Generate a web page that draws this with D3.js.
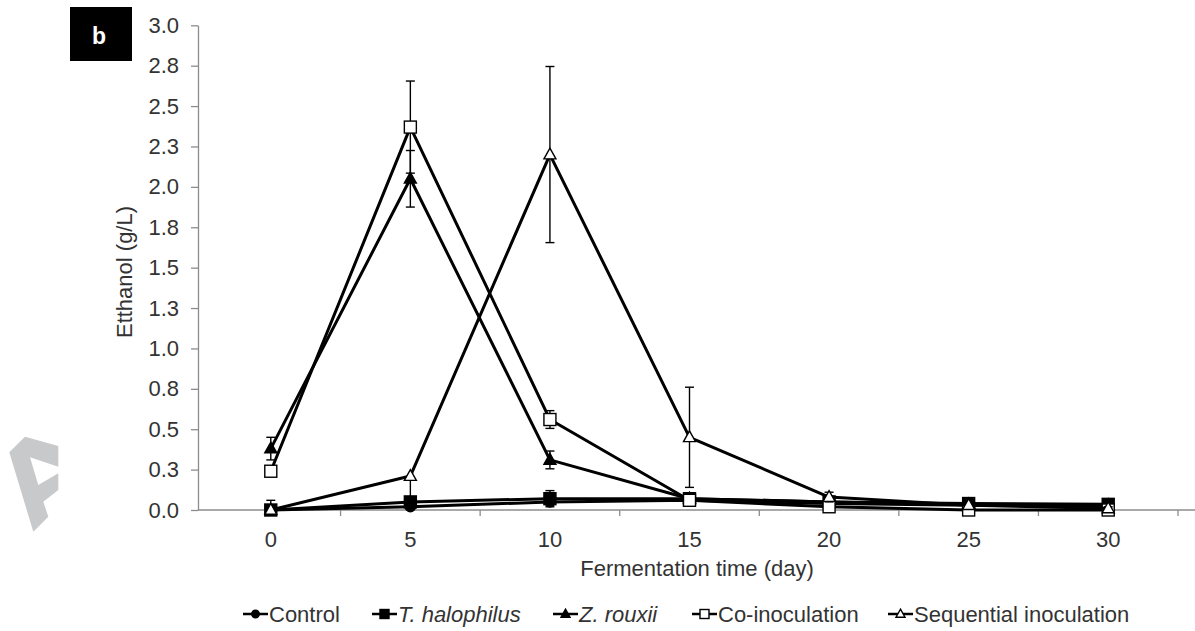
<!DOCTYPE html>
<html>
<head>
<meta charset="utf-8">
<script src="https://cdn.jsdelivr.net/npm/d3@7"></script>
<style>
  html, body { margin: 0; padding: 0; background: #fff; }
  svg { display: block; font-family: "Liberation Sans", Arial, Helvetica, sans-serif; }
</style>
</head>
<body>
<svg id="chart" width="1195" height="631"></svg>
<script>
// Fermentation days (categories on the x axis)
const days = [0, 5, 10, 15, 20, 25, 30];

// Ethanol (g/L) per treatment, with error bar half-widths
const control       = [0.00, 0.02, 0.05, 0.06, 0.04, 0.03, 0.02];
const controlErr    = [0.00, 0.01, 0.01, 0.01, 0.01, 0.01, 0.01];
const tHalophilus   = [0.00, 0.05, 0.07, 0.07, 0.05, 0.04, 0.035];
const tHalophilusErr= [0.00, 0.02, 0.05, 0.02, 0.01, 0.01, 0.01];
const zRouxii       = [0.38, 2.05, 0.31, 0.07, 0.05, 0.035, 0.03];
const zRouxiiErr    = [0.07, 0.175, 0.055, 0.02, 0.01, 0.01, 0.01];
const coInoc        = [0.24, 2.37, 0.56, 0.06, 0.02, 0.00, 0.00];
const coInocErr     = [0.00, 0.285, 0.055, 0.02, 0.01, 0.01, 0.01];
const sequential    = [0.00, 0.21, 2.20, 0.45, 0.08, 0.03, 0.01];
const sequentialErrUp   = [0.06, 0.00, 0.545, 0.31, 0.03, 0.01, 0.01];
const sequentialErrDown = [0.06, 0.16, 0.545, 0.31, 0.03, 0.01, 0.01];

// Y axis ticks (0.25 steps, labels rounded to one decimal)
const yTickValues = [0, 0.25, 0.5, 0.75, 1.0, 1.25, 1.5, 1.75, 2.0, 2.25, 2.5, 2.75, 3.0];
const yTickLabels = ["0.0", "0.3", "0.5", "0.8", "1.0", "1.3", "1.5", "1.8", "2.0", "2.3", "2.5", "2.8", "3.0"];

const seriesNames = ["Control", "T. halophilus", "Z. rouxii", "Co-inoculation", "Sequential inoculation"];

const series = [
  { name: seriesNames[0], values: control,     up: controlErr,      down: controlErr,        marker: "circle",   fill: "#000", italic: false },
  { name: seriesNames[1], values: tHalophilus, up: tHalophilusErr,  down: tHalophilusErr,    marker: "square",   fill: "#000", italic: true },
  { name: seriesNames[2], values: zRouxii,     up: zRouxiiErr,      down: zRouxiiErr,        marker: "triangle", fill: "#000", italic: true },
  { name: seriesNames[3], values: coInoc,      up: coInocErr,       down: coInocErr,         marker: "square",   fill: "#fff", italic: false },
  { name: seriesNames[4], values: sequential,  up: sequentialErrUp, down: sequentialErrDown, marker: "triangle", fill: "#fff", italic: false }
];

const svg = d3.select("#chart");
const axisColor = "#8c8c8c";
const textColor = "#333";
const fontSize = 22;

const plotLeft = 198, plotRight = 1195, plotTop = 25.3, plotBottom = 510;

const x = d3.scaleBand().domain(days).range([201, 1178]).padding(0);
const xc = d => x(d) + x.bandwidth() / 2;
const y = d3.scaleLinear().domain([0, 3]).range([plotBottom, plotTop]);

// Watermark glyph at the left margin
svg.append("path")
  .attr("d", "M9.3,452.3 L25,436.7 L58.3,446 L58.3,490 L43.3,501.7 L48.3,516.7 L33.3,531.7 Z " +
             "M30,457.3 L58.3,466.7 L58.3,473.3 L38.3,485 Z")
  .attr("fill", "#c8c9cb")
  .attr("fill-rule", "evenodd");

// Panel label
svg.append("rect").attr("x", 70).attr("y", 7).attr("width", 62).attr("height", 54).attr("fill", "#000");
svg.append("text").attr("x", 99).attr("y", 44).attr("text-anchor", "middle")
  .attr("fill", "#fff").attr("font-size", 23).attr("font-weight", "bold").text("b");

// Y axis
const yAxis = d3.axisLeft(y).tickValues(yTickValues)
  .tickFormat((d, i) => yTickLabels[i]).tickSize(7).tickSizeOuter(0).tickPadding(12);
const gy = svg.append("g").attr("transform", `translate(${plotLeft},0)`).call(yAxis);
gy.select(".domain").attr("stroke", axisColor).attr("stroke-width", 1.3);
gy.selectAll(".tick line").attr("stroke", axisColor).attr("stroke-width", 1.3);
gy.selectAll(".tick text").attr("fill", textColor).attr("font-size", fontSize)
  .attr("font-family", "Liberation Sans, Arial, sans-serif");

// X axis: line with ticks between categories, labels at category centres
const gx = svg.append("g");
gx.append("line").attr("x1", plotLeft).attr("x2", plotRight).attr("y1", plotBottom).attr("y2", plotBottom)
  .attr("stroke", axisColor).attr("stroke-width", 1.3);
const xTickPos = days.slice(1).map(d => x(d)).concat([x(days[days.length - 1]) + x.bandwidth()]);
gx.selectAll("line.xt").data(xTickPos).join("line").attr("class", "xt")
  .attr("x1", d => d).attr("x2", d => d).attr("y1", plotBottom).attr("y2", plotBottom + 6)
  .attr("stroke", axisColor).attr("stroke-width", 1.3);
gx.selectAll("text.xl").data(days).join("text").attr("class", "xl")
  .attr("x", d => xc(d)).attr("y", 547).attr("text-anchor", "middle")
  .attr("fill", textColor).attr("font-size", fontSize).text(d => d);

// Axis titles
svg.append("text").attr("x", 697).attr("y", 576).attr("text-anchor", "middle")
  .attr("fill", textColor).attr("font-size", fontSize).text("Fermentation time (day)");
svg.append("text").attr("transform", "translate(132,272) rotate(-90)").attr("text-anchor", "middle")
  .attr("fill", textColor).attr("font-size", fontSize).text("Etthanol (g/L)");

// Marker drawing helper
function drawMarker(g, type, cx, cy, fill, size) {
  const s = size;
  if (type === "circle") {
    g.append("circle").attr("cx", cx).attr("cy", cy).attr("r", s * 0.42)
      .attr("fill", fill).attr("stroke", "#000").attr("stroke-width", 1.4);
  } else if (type === "square") {
    g.append("rect").attr("x", cx - s / 2).attr("y", cy - s / 2).attr("width", s).attr("height", s)
      .attr("fill", fill).attr("stroke", "#000").attr("stroke-width", 1.4);
  } else {
    const h = s * 0.9;
    g.append("path")
      .attr("d", `M${cx},${cy - h * 0.6} L${cx + s / 2},${cy + h * 0.4} L${cx - s / 2},${cy + h * 0.4} Z`)
      .attr("fill", fill).attr("stroke", "#000").attr("stroke-width", 1.4);
  }
}

const line = d3.line().x((d, i) => xc(days[i])).y(d => y(d));
const plot = svg.append("g");

series.forEach(s => {
  const g = plot.append("g");
  g.append("path").datum(s.values).attr("d", line)
    .attr("fill", "none").attr("stroke", "#000").attr("stroke-width", 3).attr("stroke-linejoin", "round");

  // Error bars (clipped at the x axis)
  s.values.forEach((v, i) => {
    const cx = xc(days[i]);
    const hi = v + s.up[i], lo = Math.max(0, v - s.down[i]);
    if (s.up[i] <= 0 && s.down[i] <= 0) return;
    g.append("line").attr("x1", cx).attr("x2", cx).attr("y1", y(hi)).attr("y2", y(lo))
      .attr("stroke", "#000").attr("stroke-width", 1.4);
    if (s.up[i] > 0) {
      g.append("line").attr("x1", cx - 4.5).attr("x2", cx + 4.5).attr("y1", y(hi)).attr("y2", y(hi))
        .attr("stroke", "#000").attr("stroke-width", 1.4);
    }
    if (s.down[i] > 0 && v - s.down[i] >= 0) {
      g.append("line").attr("x1", cx - 4.5).attr("x2", cx + 4.5).attr("y1", y(lo)).attr("y2", y(lo))
        .attr("stroke", "#000").attr("stroke-width", 1.4);
    }
  });

  s.values.forEach((v, i) => drawMarker(g, s.marker, xc(days[i]), y(v), s.fill, 12));
});

// Legend
const legendItems = [
  { x: 243 }, { x: 372 }, { x: 553 }, { x: 692 }, { x: 888 }
];
const lg = svg.append("g");
series.forEach((s, i) => {
  const lx = legendItems[i].x, ly = 614;
  lg.append("line").attr("x1", lx).attr("x2", lx + 25).attr("y1", ly).attr("y2", ly)
    .attr("stroke", "#000").attr("stroke-width", 2.5);
  drawMarker(lg, s.marker, lx + 12.5, ly, s.fill, 9);
  lg.append("text").attr("x", lx + 26).attr("y", ly + 8)
    .attr("fill", textColor).attr("font-size", fontSize)
    .attr("font-style", s.italic ? "italic" : "normal").text(s.name);
});
</script>
</body>
</html>
